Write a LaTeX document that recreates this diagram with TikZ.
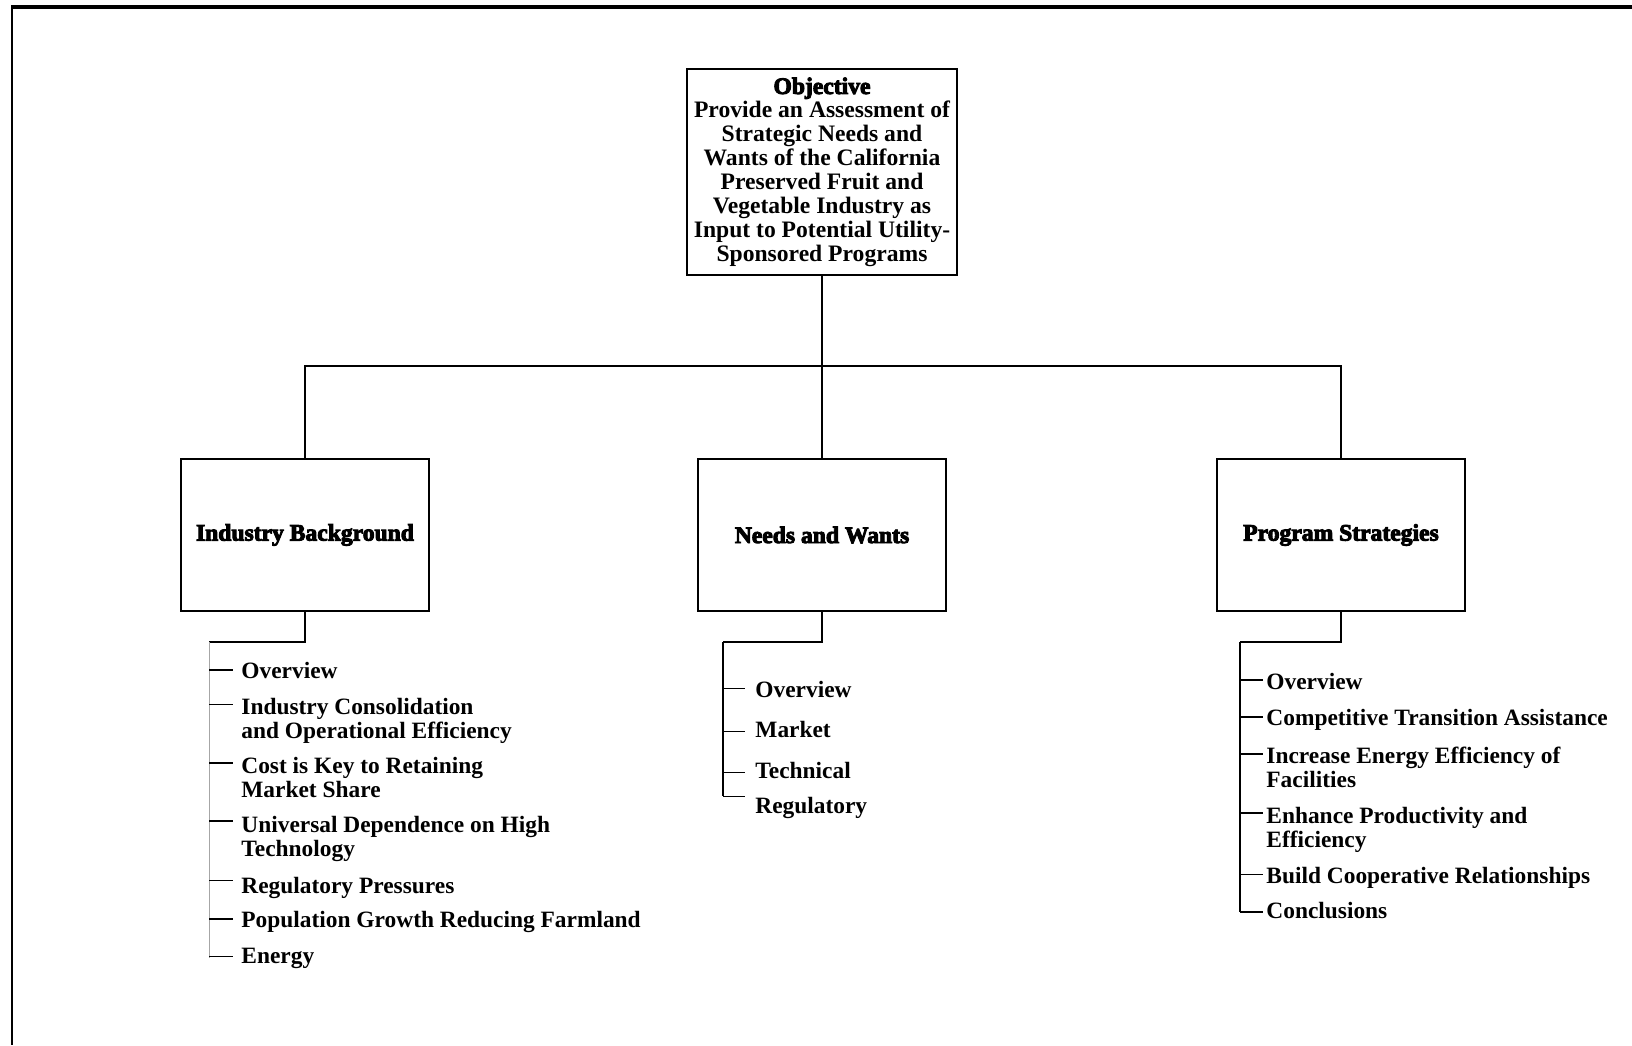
\documentclass[tikz,border=0pt]{standalone}
\usepackage{fontspec}
\setmainfont{Liberation Serif}
\newfontfamily\heavy{Liberation Serif}[BoldFeatures={FakeBold=4}]
% tick from a list spine to one item: style, item node, vertical offset from its last baseline, left gap, right gap
\newcommand\itemtick[5]{\draw[#1] ([shift={(-#4,#3)}]#2.base west) -- ([shift={(-#5,#3)}]#2.base west);}
\begin{document}
\begin{tikzpicture}[x=0.5pt, y=-0.5pt,
  box/.style={draw, line width=1pt, inner sep=0pt, minimum width=124pt, minimum height=76pt,
    font=\heavy\bfseries\fontsize{11.8}{12}\selectfont},
  conn/.style={line width=0.8pt},
  item/.style={anchor=base west, inner sep=0pt, align=left,
    font=\bfseries\fontsize{11.7}{11.8}\selectfont},
  tk/.style={line width=0.9pt},
  tkthin/.style={line width=0.45pt}]

\fill[white] (0,0) rectangle (1632,1045);
\useasboundingbox (0,0) rectangle (1632,1045);

% page frame (top and left edges)
\draw[line width=2pt] (11,7) -- (1632,7);
\draw[line width=1.2pt] (12,6) -- (12,1045);

% objective
\node[draw, line width=1pt, inner sep=0pt, minimum width=135pt, minimum height=103pt, align=center,
  font=\bfseries\fontsize{11.8}{11.95}\selectfont] (obj) at (822,172)
  {{\heavy\bfseries Objective}\\ Provide an Assessment of\\ Strategic Needs and\\
   Wants of the California\\ Preserved Fruit and\\ Vegetable Industry as\\
   Input to Potential Utility-\\ Sponsored Programs};

% three sections
\node[box] (ib) at (305,535) {Industry Background};
\node[box] (nw) at (822,535) {Needs and Wants};
\node[box] (ps) at (1341,535) {Program Strategies};

\coordinate (bus) at (822,366);
\draw[conn] (ib.north) |- (bus) -| (ps.north);
\draw[conn] (obj.south) -- (nw.north);

% --- Industry Background list (two-line items are placed by their last baseline) ---
\coordinate (ibc) at (209,642);
\coordinate (ibe) at (209,958);
\draw[conn] (ib.south) |- (ibc);
\draw[black!35, line width=0.5pt] (ibc) -- (ibe);
\node[item] (a1) at (241,678) {Overview};
\node[item] (a2) at (241,738) {Industry Consolidation\\and Operational Efficiency};
\node[item] (a3) at (241,797) {Cost is Key to Retaining\\Market Share};
\node[item] (a4) at (241,856) {Universal Dependence on High\\Technology};
\node[item] (a5) at (241,893) {Regulatory Pressures};
\node[item] (a6) at (241,927) {Population Growth Reducing Farmland};
\node[item] (a7) at (241,963) {Energy};
\itemtick{tk}{a1}{-8}{32}{8}
\itemtick{tkthin}{a2}{-34}{32}{8}
\itemtick{tk}{a3}{-34}{32}{8}
\itemtick{tk}{a4}{-35}{32}{8}
\itemtick{tkthin}{a5}{-13}{32}{8}
\itemtick{tk}{a6}{-8}{32}{8}
\itemtick{tkthin}{a7}{-7}{32}{8}

% --- Needs and Wants list ---
\coordinate (nwc) at (723,642);
\coordinate (nwe) at (723,796);
\draw[conn] (nw.south) |- (nwc);
\draw[conn] (nwc) -- (nwe);
\node[item] (b1) at (755,697) {Overview};
\node[item] (b2) at (755,737) {Market};
\node[item] (b3) at (755,778) {Technical};
\node[item] (b4) at (755,813) {Regulatory};
\itemtick{tkthin}{b1}{-9}{32}{10}
\itemtick{tkthin}{b2}{-6}{32}{10}
\itemtick{tkthin}{b3}{-6}{32}{10}
\itemtick{tkthin}{b4}{-17}{32}{10}

% --- Program Strategies list ---
\coordinate (psc) at (1240,642);
\coordinate (pse) at (1240,912);
\draw[conn] (ps.south) |- (psc);
\draw[conn] (psc) -- (pse);
\node[item] (c1) at (1266,689) {Overview};
\node[item] (c2) at (1266,725) {Competitive Transition Assistance};
\node[item] (c3) at (1266,787) {Increase Energy Efficiency of\\Facilities};
\node[item] (c4) at (1266,847) {Enhance Productivity and\\Efficiency};
\node[item] (c5) at (1266,883) {Build Cooperative Relationships};
\node[item] (c6) at (1266,918) {Conclusions};
\itemtick{tk}{c1}{-9}{26}{3}
\itemtick{tk}{c2}{-8}{26}{3}
\itemtick{tk}{c3}{-33}{26}{3}
\itemtick{tk}{c4}{-34}{26}{3}
\itemtick{tkthin}{c5}{-9}{26}{3}
\itemtick{tk}{c6}{-6}{26}{3}
\end{tikzpicture}
\end{document}
